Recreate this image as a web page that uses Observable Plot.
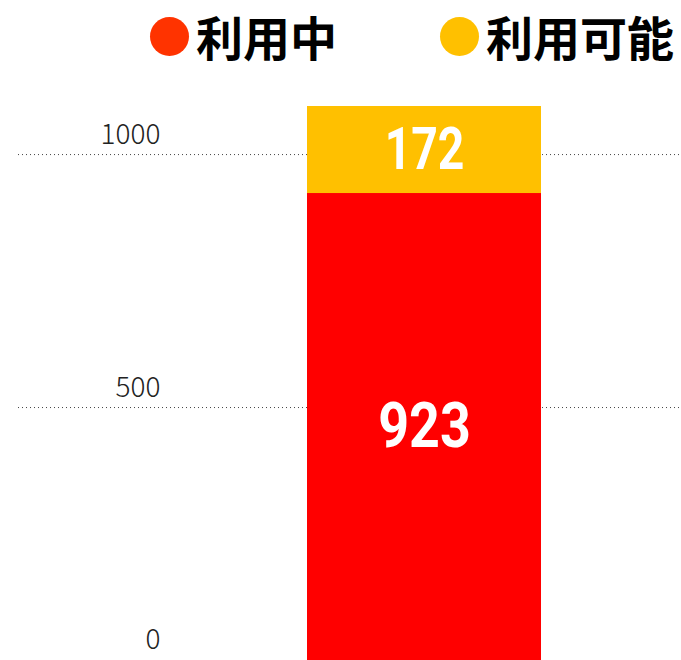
<!DOCTYPE html>
<html>
<head>
<meta charset="utf-8">
<script src="https://cdn.jsdelivr.net/npm/d3@7"></script>
<script src="https://cdn.jsdelivr.net/npm/@observablehq/plot@0.6"></script>
<style>
  html, body { margin: 0; padding: 0; background: #fff; }
  #wrap { width: 681px; height: 660px; position: relative; overflow: hidden; }
  #legend { position: relative; width: 681px; height: 80px; font-family: "Noto Sans CJK JP", sans-serif; font-weight: 700; font-size: 47px; color: #000; }
  .item { position: absolute; top: 12px; display: flex; align-items: center; line-height: 48px; height: 48px; }
  .sw { width: 39px; height: 39px; border-radius: 50%; margin-right: 7px; }
</style>
</head>
<body>
<div id="wrap">
  <div id="legend"></div>
  <div id="chart"></div>
</div>
<script>
const categories = ["利用中", "利用可能"];
const values = [923, 172];
const barColors = ["#FF0000", "#FFC000"];
const legendColors = ["#FF3300", "#FFC000"];
const yTicks = [0, 500, 1000];
const group = "合計";

const data = categories.map((c, i) => ({group, status: c, value: values[i]}));

// legend
const legend = document.getElementById("legend");
const legendLeft = [150, 440];
categories.forEach((c, i) => {
  const it = document.createElement("div");
  it.className = "item";
  it.style.left = legendLeft[i] + "px";
  const sw = document.createElement("div");
  sw.className = "sw";
  sw.style.background = legendColors[i];
  const tx = document.createElement("span");
  tx.textContent = c;
  it.appendChild(sw);
  it.appendChild(tx);
  legend.appendChild(it);
});

const chart = Plot.plot({
  width: 681,
  height: 580,
  marginTop: 26,
  marginBottom: 0,
  marginLeft: 167,
  marginRight: 0,
  style: {fontFamily: "'Noto Sans CJK JP', sans-serif", background: "#fff"},
  x: {domain: [group], padding: 0.374, axis: null},
  y: {domain: [0, values[0] + values[1]], axis: null},
  color: {domain: categories, range: barColors},
  marks: [
    Plot.ruleY(yTicks.filter(d => d > 0), {stroke: "#444", strokeWidth: 1, strokeDasharray: "1,3", insetLeft: -149}),
    Plot.axisY(yTicks, {tickSize: 0, tickPadding: 7, fontSize: 28, dy: -20, fill: "#222", fontWeight: 300, label: null, tickFormat: d => String(d)}),
    Plot.barY(data, Plot.stackY({x: "group", y: "value", z: "status", fill: "status", order: categories})),
    Plot.text(data, Plot.stackY({
      x: "group", y: "value", z: "status", order: categories,
      text: d => String(d.value),
      fill: "#fff",
      fontSize: d => d.value > 500 ? 63 : 59,
      fontWeight: 700,
      fontFamily: "Roboto, sans-serif"
    }))
  ]
});
// condense the bar labels like the reference's narrow digits
d3.select(chart).selectAll('g[aria-label="text"] text').each(function() {
  const t = this.textContent;
  let fs = parseFloat(this.getAttribute("font-size"));
  if (!fs) fs = parseFloat(getComputedStyle(this).fontSize) || 60;
  const k = fs > 60 ? 0.49 : 0.45;
  this.setAttribute("textLength", (t.length * fs * k).toFixed(1));
  this.setAttribute("lengthAdjust", "spacingAndGlyphs");
});
document.getElementById("chart").appendChild(chart);
</script>
</body>
</html>
